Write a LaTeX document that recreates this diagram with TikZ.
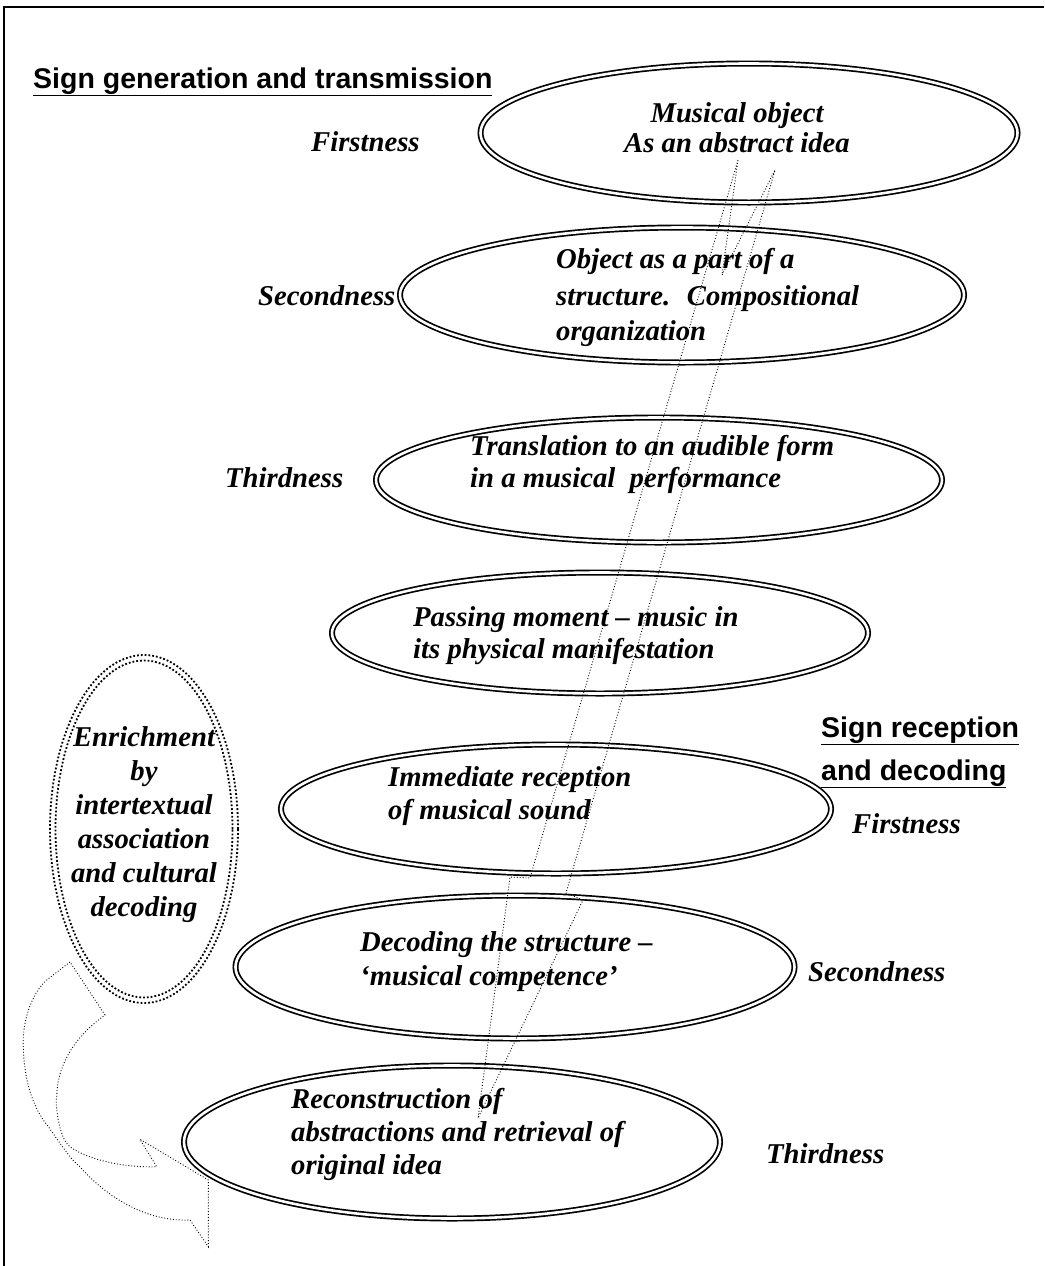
\documentclass[tikz,border=0pt]{standalone}
\usepackage{fontspec}
\setmainfont{Liberation Serif}
\newfontfamily\headfont{Liberation Sans}
\usetikzlibrary{shapes.geometric}
\begin{document}
\begin{tikzpicture}[x=1pt,y=-1pt,
  lbl/.style={font=\fontsize{28.7}{34}\selectfont\bfseries\itshape, inner sep=0pt, anchor=base west},
  clbl/.style={font=\fontsize{28.7}{34}\selectfont\bfseries\itshape, inner sep=0pt, anchor=base},
  headtxt/.style={font=\headfont\fontsize{28.5}{34}\selectfont\bfseries, inner sep=0pt, anchor=base west},
  ell/.style={draw, ellipse, double, double distance=2.6pt, line width=1.7pt, inner sep=0pt},
  dotline/.style={draw, dotted, line width=0.9pt},
  thickdot/.style={draw, dotted, line width=1.8pt}]
\useasboundingbox (0,0) rectangle (1044,1266);
% frame
\draw[line width=1.6pt] (4,1266) -- (4,7) -- (1044,7);
% headings
\node[headtxt] (h1) at (33,88) {\underline{Sign generation and transmission}};
\node[headtxt] (h2) at (821,737) {\underline{Sign reception}};
\node[headtxt] (h3) at (821,780) {\underline{and decoding}};
% side labels
\node[lbl] (f1) at (311,151) {Firstness};
\node[lbl] (s1) at (258,305) {Secondness};
\node[lbl] (t1) at (225,487) {Thirdness};
\node[lbl] (f2) at (852,833) {Firstness};
\node[lbl] (s2) at (808,981) {Secondness};
\node[lbl] (t2) at (766,1163) {Thirdness};
% ellipses
\node[ell, minimum width=537pt, minimum height=139pt] (e1) at (749,133) {};
\node[ell, minimum width=564pt, minimum height=135pt] (e2) at (682,295) {};
\node[ell, minimum width=566pt, minimum height=125pt] (e3) at (659,480) {};
\node[ell, minimum width=536pt, minimum height=121pt] (e4) at (600,633) {};
\node[ell, minimum width=550pt, minimum height=129pt] (e5) at (556,809) {};
\node[ell, minimum width=559pt, minimum height=143pt] (e6) at (515,967) {};
\node[ell, minimum width=536pt, minimum height=153pt] (e7) at (452,1142) {};
% ellipse texts
\node[clbl] (m1) at (737,122) {Musical object};
\node[clbl] (m2) at (737,152) {As an abstract idea};
\node[lbl] (o1) at (556,268) {Object as a part of a};
\node[lbl] (o2) at (556,305) {structure.~ Compositional};
\node[lbl] (o3) at (556,340) {organization};
\node[lbl] (tr1) at (470,455) {Translation to an audible form};
\node[lbl] (tr2) at (470,487) {in a musical~ performance};
\node[lbl] (p1) at (413,626) {Passing moment – music in};
\node[lbl] (p2) at (413,658) {its physical manifestation};
\node[lbl] (i1) at (388,786) {Immediate reception};
\node[lbl] (i2) at (388,819) {of musical sound};
\node[lbl] (d1) at (360,951) {Decoding the structure –};
\node[lbl] (d2) at (360,985) {‘musical competence’};
\node[lbl] (r1) at (291,1108) {Reconstruction of};
\node[lbl] (r2) at (291,1141) {abstractions and retrieval of};
\node[lbl] (r3) at (291,1174) {original idea};
% enrichment ellipse (double dotted)
\node[thickdot, ellipse, minimum width=188pt, minimum height=348pt] (en) at (144,829) {};
\node[thickdot, ellipse, minimum width=177pt, minimum height=337pt] (en2) at (144,829) {};
\node[clbl] (n1) at (144,746) {Enrichment};
\node[clbl] (n2) at (144,780) {by};
\node[clbl] (n3) at (144,814) {intertextual};
\node[clbl] (n4) at (144,848) {association};
\node[clbl] (n5) at (144,882) {and cultural};
\node[clbl] (n6) at (144,916) {decoding};
% long dotted notched arrow
\draw[dotline] (738,160) -- (530,878) -- (510,877) -- (478,1118) -- (583,900)
  -- (566,893) -- (775,170) -- (722,275) -- cycle;
% curved dotted block arrow
\draw[dotline] (70,962) -- (46.7,980)
  .. controls (30,995) and (22,1025) .. (23.3,1046.7)
  .. controls (24,1075) and (30,1100) .. (43.3,1120)
  .. controls (55,1135) and (70,1160) .. (80,1166.7)
  .. controls (100,1190) and (140,1222) .. (190,1220)
  -- (208.3,1246.7) -- (208.3,1180) -- (140,1139.3) -- (156.7,1166.7)
  .. controls (120,1168) and (85,1158) .. (70,1146.7)
  .. controls (58,1138) and (55,1100) .. (56.7,1096.7)
  .. controls (57,1070) and (70,1040) .. (105,1015)
  -- cycle;
\end{tikzpicture}
\end{document}
